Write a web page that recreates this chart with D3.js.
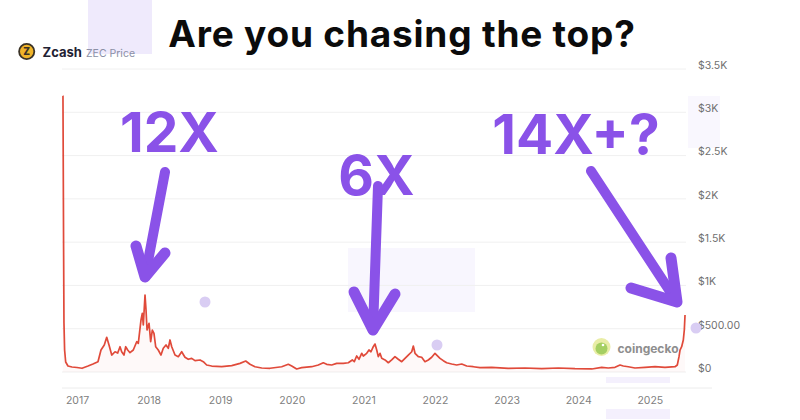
<!DOCTYPE html>
<html>
<head>
<meta charset="utf-8">
<script src="https://cdn.jsdelivr.net/npm/d3@7"></script>
<style>
  html, body { margin: 0; padding: 0; background: #ffffff; }
  svg { display: block; }
</style>
</head>
<body>
<svg id="chart" width="800" height="420"></svg>
<script>
// ---- data (decimal year, USD price) ----
const dates = [
  2016.802, 2016.804, 2016.813, 2016.818, 2016.827, 2016.842, 2016.874, 2016.930, 2017.000, 2017.070,
  2017.154, 2017.223, 2017.293, 2017.335, 2017.381, 2017.415, 2017.447, 2017.485, 2017.531, 2017.568,
  2017.601, 2017.624, 2017.656, 2017.680, 2017.708, 2017.740, 2017.786, 2017.834, 2017.856, 2017.894,
  2017.912, 2017.926, 2017.950, 2017.964, 2017.978, 2018.006, 2018.029, 2018.052, 2018.075, 2018.099,
  2018.135, 2018.173, 2018.205, 2018.243, 2018.275, 2018.299, 2018.323, 2018.369, 2018.415, 2018.462,
  2018.508, 2018.554, 2018.602, 2018.648, 2018.718, 2018.764, 2018.811, 2018.881, 2019.021, 2019.161,
  2019.277, 2019.356, 2019.416, 2019.486, 2019.580, 2019.696, 2019.859, 2019.951, 2019.999, 2020.068,
  2020.138, 2020.278, 2020.370, 2020.440, 2020.487, 2020.557, 2020.627, 2020.719, 2020.789, 2020.845,
  2020.873, 2020.906, 2020.939, 2020.976, 2020.999, 2021.046, 2021.078, 2021.106, 2021.138, 2021.162,
  2021.186, 2021.208, 2021.232, 2021.256, 2021.302, 2021.348, 2021.395, 2021.441, 2021.487, 2021.535,
  2021.581, 2021.627, 2021.675, 2021.697, 2021.721, 2021.767, 2021.814, 2021.860, 2021.906, 2021.954,
  2022.000, 2022.024, 2022.070, 2022.116, 2022.163, 2022.233, 2022.303, 2022.373, 2022.443, 2022.535,
  2022.628, 2022.792, 2023.024, 2023.257, 2023.490, 2023.722, 2023.955, 2024.189, 2024.328, 2024.420,
  2024.514, 2024.584, 2024.630, 2024.700, 2024.793, 2024.933, 2025.073, 2025.212, 2025.352, 2025.384,
  2025.408, 2025.422, 2025.445, 2025.468, 2025.482, 2025.492
];
const prices = [
  3188, 3188, 1409, 566, 254, 115, 69, 58, 52, 43,
  69, 92, 119, 254, 312, 401, 312, 196, 234, 219,
  292, 234, 196, 292, 254, 223, 254, 350, 331, 601,
  678, 543, 889, 716, 485, 562, 350, 485, 447, 292,
  254, 196, 274, 312, 274, 370, 292, 196, 177, 234,
  170, 147, 158, 131, 139, 119, 81, 69, 61, 73,
  100, 127, 89, 61, 46, 43, 61, 89, 69, 35,
  50, 61, 81, 107, 89, 81, 100, 100, 107, 139,
  119, 185, 147, 216, 185, 216, 254, 234, 292, 323,
  254, 177, 216, 158, 139, 107, 139, 177, 147, 119,
  158, 196, 234, 300, 216, 177, 170, 119, 139, 170,
  216, 196, 158, 131, 107, 92, 81, 92, 69, 61,
  50, 54, 43, 46, 38, 46, 38, 35, 54, 46,
  54, 81, 69, 61, 46, 54, 61, 54, 61, 81,
  177, 254, 292, 370, 485, 658
];
const yearTicks = [2017, 2018, 2019, 2020, 2021, 2022, 2023, 2024, 2025];
const priceTicks = [0, 500, 1000, 1500, 2000, 2500, 3000, 3500];
const priceTickLabels = ["$0", "$500.00", "$1K", "$1.5K", "$2K", "$2.5K", "$3K", "$3.5K"];

const titleText = "Are you chasing the top?";
const coinName = "Zcash";
const coinSub = "ZEC Price";
const annotations = [
  { label: "12X", at: 2017.950 },
  { label: "6X", at: 2021.162 },
  { label: "14X+?", at: 2025.492 }
];

// ---- drawing ----
const svg = d3.select("#chart");
const x = d3.scaleLinear().domain([2017, 2025]).range([77, 649.8]);
const y = d3.scaleLinear().domain([0, 3500]).range([372, 69]);
const series = dates.map((d, i) => ({ d, v: prices[i] }));

const purple = "#8a52e8";
const font = "Inter, 'Noto Sans', sans-serif";

// faint lavender background patches
const patches = [
  [88, 0, 64, 54, "#efeafc"],
  [348, 248, 127, 64, "#f8f6fe"],
  [688, 96, 32, 52, "#f9f7fe"],
  [606, 377, 64, 6, "#f4f0fd"],
  [606, 409, 64, 10, "#f4f0fd"]
];
svg.selectAll("rect.patch").data(patches).join("rect")
  .attr("class", "patch")
  .attr("x", d => d[0]).attr("y", d => d[1])
  .attr("width", d => d[2]).attr("height", d => d[3])
  .attr("fill", d => d[4]);

// gridlines
svg.append("g").selectAll("line").data(priceTicks).join("line")
  .attr("x1", 62).attr("x2", 686)
  .attr("y1", d => y(d)).attr("y2", d => y(d))
  .attr("stroke", "#f0f0f0").attr("stroke-width", 1);

// bottom (navigator) line
svg.append("line")
  .attr("x1", 62).attr("x2", 712).attr("y1", 388).attr("y2", 388)
  .attr("stroke", "#ececec").attr("stroke-width", 1);

// y axis labels (right)
const yAxis = d3.axisRight(y).tickValues(priceTicks)
  .tickFormat((d, i) => priceTickLabels[i]).tickSize(0).tickPadding(0);
const gy = svg.append("g").attr("transform", "translate(698,-4)").call(yAxis);
gy.select(".domain").remove();
gy.selectAll("text").attr("font-family", font)
  .attr("font-size", 10.5).attr("fill", "#707070");

// x axis labels
const xAxis = d3.axisBottom(x).tickValues(yearTicks).tickFormat(d3.format("d"))
  .tickSize(0).tickPadding(0);
const gx = svg.append("g").attr("transform", "translate(0,396.5)").call(xAxis);
gx.select(".domain").remove();
gx.selectAll("text").attr("font-family", font)
  .attr("font-size", 10.5).attr("fill", "#808080");

// faint area under line
svg.append("path").datum(series)
  .attr("d", d3.area().x(p => x(p.d)).y0(y(0)).y1(p => y(p.v)))
  .attr("fill", "#e5483b").attr("opacity", 0.03);

// price line
svg.append("path").datum(series)
  .attr("d", d3.line().x(p => x(p.d)).y(p => y(p.v)))
  .attr("fill", "none").attr("stroke", "#e04a3a")
  .attr("stroke-width", 1.7).attr("stroke-linejoin", "round");

// decorative lavender dots
const dots = [[205, 302], [437, 345], [696, 328]];
svg.selectAll("circle.dot").data(dots).join("circle")
  .attr("class", "dot").attr("cx", d => d[0]).attr("cy", d => d[1]).attr("r", 5.5)
  .attr("fill", "#d9cdf3");

// coingecko watermark
svg.append("circle").attr("cx", 601.5).attr("cy", 347).attr("r", 9).attr("fill", "#e9eda6");
svg.append("circle").attr("cx", 601.5).attr("cy", 348.5).attr("r", 6).attr("fill", "#a5cf62");
svg.append("circle").attr("cx", 603).attr("cy", 345).attr("r", 1.3).attr("fill", "#ffffff");
svg.append("text").attr("x", 617.5).attr("y", 352.5)
  .attr("font-family", font).attr("font-weight", 700)
  .attr("font-size", 12).attr("fill", "#8e8e8e").text("coingecko");

// Zcash logo + name
svg.append("circle").attr("cx", 26.7).attr("cy", 51.5).attr("r", 7.6)
  .attr("fill", "#f0b429").attr("stroke", "#3a3226").attr("stroke-width", 1.8);
svg.append("text").attr("x", 26.7).attr("y", 55.2).attr("text-anchor", "middle")
  .attr("font-family", font).attr("font-weight", 800)
  .attr("font-size", 10).attr("fill", "#3a3226").text("Z");
svg.append("text").attr("x", 42.5).attr("y", 56.5)
  .attr("font-family", font).attr("font-weight", 700)
  .attr("font-size", 13).attr("fill", "#1f2233").text(coinName);
svg.append("text").attr("x", 86).attr("y", 56.5)
  .attr("font-family", font).attr("font-weight", 400)
  .attr("font-size", 10.5).attr("fill", "#8b90a6").text(coinSub);

// title
svg.append("text").attr("x", 402).attr("y", 47)
  .attr("text-anchor", "middle")
  .attr("font-family", font).attr("font-weight", 700)
  .attr("font-size", 37).attr("letter-spacing", 0.8)
  .attr("fill", "#0b0b0b").text(titleText);

// annotation labels
const labelPos = [[169.5, 152], [376.5, 195], [576, 154]];
svg.selectAll("text.ann").data(annotations).join("text")
  .attr("class", "ann")
  .attr("x", (d, i) => labelPos[i][0]).attr("y", (d, i) => labelPos[i][1])
  .attr("text-anchor", "middle")
  .attr("font-family", font).attr("font-weight", 700)
  .attr("font-size", 55).attr("fill", purple).text(d => d.label);

// hand-drawn arrows pointing at the peaks
const arrowShapes = [
  { shaft: [[165, 172], [x(annotations[0].at), 277]], head: [[136, 246], [x(annotations[0].at), 277], [165, 253]] },
  { shaft: [[378, 186], [x(annotations[1].at) - 2, 330]], head: [[354, 292], [x(annotations[1].at) - 2, 330], [395, 294]] },
  { shaft: [[591, 171], [677, 302]], head: [[671, 258], [677, 302], [631, 288]] }
];
const lineGen = d3.line();
arrowShapes.forEach(a => {
  svg.append("path").attr("d", lineGen(a.shaft))
    .attr("fill", "none").attr("stroke", purple).attr("stroke-width", 10)
    .attr("stroke-linecap", "round");
  svg.append("path").attr("d", lineGen(a.head))
    .attr("fill", "none").attr("stroke", purple).attr("stroke-width", 11)
    .attr("stroke-linecap", "round").attr("stroke-linejoin", "round");
});
</script>
</body>
</html>
